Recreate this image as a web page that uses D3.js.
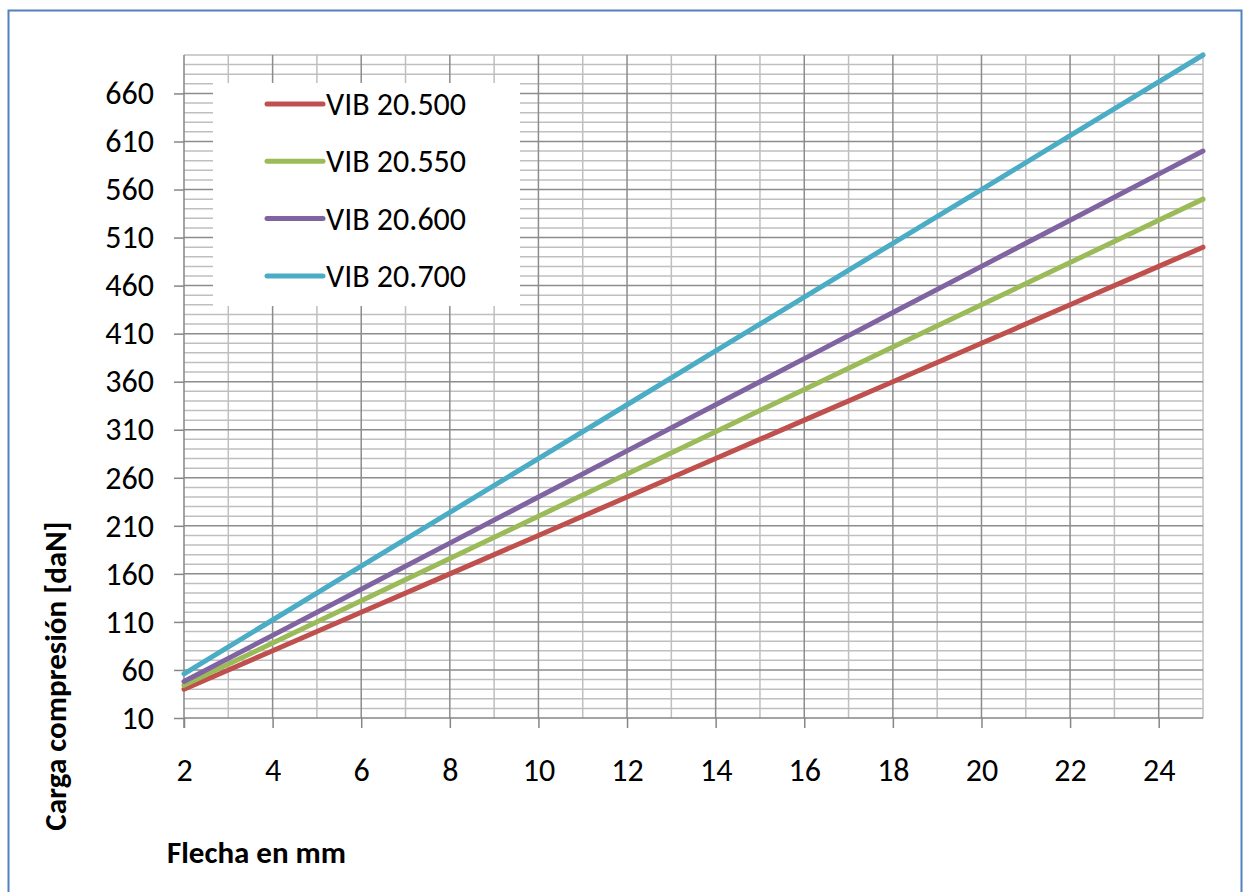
<!DOCTYPE html>
<html>
<head>
<meta charset="utf-8">
<script src="https://cdn.jsdelivr.net/npm/d3@7"></script>
<style>
  body { margin: 0; background: #fff; }
  #chart { width: 1244px; height: 892px; }
  text { font-family: Carlito, Calibri, Lato, sans-serif; fill: #000; }
</style>
</head>
<body>
<div id="chart"></div>
<script>
const flecha = [2, 4, 6, 8, 10, 12, 14, 16, 18, 20, 22, 24, 25];
const seriesNames = ['VIB 20.500', 'VIB 20.550', 'VIB 20.600', 'VIB 20.700'];
const vib500 = [40, 80, 120, 160, 200, 240, 280, 320, 360, 400, 440, 480, 500];
const vib550 = [44, 88, 132, 176, 220, 264, 308, 352, 396, 440, 484, 528, 550];
const vib600 = [48, 96, 144, 192, 240, 288, 336, 384, 432, 480, 528, 576, 600];
const vib700 = [56, 112, 168, 224, 280, 336, 392, 448, 504, 560, 616, 672, 700];
const xTicks = [2, 4, 6, 8, 10, 12, 14, 16, 18, 20, 22, 24];
const yTicks = [10, 60, 110, 160, 210, 260, 310, 360, 410, 460, 510, 560, 610, 660];
const colors = ['#C0504D', '#9BBB59', '#8064A2', '#4BACC6'];

function drawChart() {
    const container = document.getElementById('chart');
    const W = 1244, H = 892;
    const plot = { left: 184, right: 1203, top: 55, bottom: 718 };

    const svg = d3.select(container)
        .append('svg')
        .attr('width', W)
        .attr('height', H);

    // outer frame
    svg.append('rect')
        .attr('x', 8.5)
        .attr('y', 10.5)
        .attr('width', 1233)
        .attr('height', 900)
        .attr('fill', '#fff')
        .attr('stroke', '#4F81BD')
        .attr('stroke-width', 2);

    const xScale = d3.scaleLinear().domain([2, 25]).range([plot.left, plot.right]);
    const yScale = d3.scaleLinear().domain([10, 700]).range([plot.bottom, plot.top]);

    const grid = svg.append('g');

    // minor grid
    grid.selectAll('.hminor')
        .data(d3.range(20, 701, 10).filter(v => !yTicks.includes(v)))
        .enter()
        .append('line')
        .attr('x1', plot.left).attr('x2', plot.right)
        .attr('y1', d => yScale(d)).attr('y2', d => yScale(d))
        .attr('stroke', '#BFBFBF')
        .attr('stroke-width', 1.5);

    grid.selectAll('.vminor')
        .data(d3.range(3, 26, 1).filter(v => !xTicks.includes(v)))
        .enter()
        .append('line')
        .attr('x1', d => xScale(d)).attr('x2', d => xScale(d))
        .attr('y1', plot.top).attr('y2', plot.bottom)
        .attr('stroke', '#BFBFBF')
        .attr('stroke-width', 1.5);

    // major grid
    grid.selectAll('.hmajor')
        .data(yTicks.slice(1))
        .enter()
        .append('line')
        .attr('x1', plot.left).attr('x2', plot.right)
        .attr('y1', d => yScale(d)).attr('y2', d => yScale(d))
        .attr('stroke', '#8C8C8C')
        .attr('stroke-width', 1.5);

    grid.selectAll('.vmajor')
        .data(xTicks.slice(1))
        .enter()
        .append('line')
        .attr('x1', d => xScale(d)).attr('x2', d => xScale(d))
        .attr('y1', plot.top).attr('y2', plot.bottom)
        .attr('stroke', '#8C8C8C')
        .attr('stroke-width', 1.5);

    // axes
    const xAxis = svg.append('g')
        .attr('transform', `translate(0, ${plot.bottom})`)
        .call(d3.axisBottom(xScale).tickValues(xTicks).tickSize(10).tickPadding(30));

    const yAxis = svg.append('g')
        .attr('transform', `translate(${plot.left}, 0)`)
        .call(d3.axisLeft(yScale).tickValues(yTicks).tickSize(10).tickPadding(20));

    [xAxis, yAxis].forEach(ax => {
        ax.select('.domain').remove();
        ax.selectAll('line').attr('stroke', '#868686').attr('stroke-width', 1.5);
        ax.selectAll('text')
            .style('font-family', 'Carlito, Calibri, Lato, sans-serif')
            .style('font-size', '32px')
            .attr('fill', '#000');
    });

    svg.append('line')
        .attr('x1', plot.left).attr('x2', plot.left)
        .attr('y1', plot.top).attr('y2', plot.bottom + 10)
        .attr('stroke', '#868686').attr('stroke-width', 1.5);
    svg.append('line')
        .attr('x1', plot.left).attr('x2', plot.right)
        .attr('y1', plot.bottom).attr('y2', plot.bottom)
        .attr('stroke', '#868686').attr('stroke-width', 1.5);

    // legend
    const legend = svg.append('g').attr('class', 'legend');
    legend.append('rect')
        .attr('x', 213).attr('y', 83)
        .attr('width', 307).attr('height', 223)
        .attr('fill', '#fff');

    legend.selectAll('.legend-item')
        .data(seriesNames)
        .enter()
        .append('g')
        .attr('class', 'legend-item')
        .attr('transform', (d, i) => `translate(267, ${104 + i * 57.3})`)
        .each(function(d, i) {
            const g = d3.select(this);
            g.append('line')
                .attr('x1', 0).attr('x2', 56)
                .attr('stroke', colors[i])
                .attr('stroke-width', 5)
                .attr('stroke-linecap', 'round');
            g.append('text')
                .attr('x', 59)
                .attr('y', 11)
                .style('font-size', '32px')
                .text(d);
        });

    // series
    const allValues = [vib500, vib550, vib600, vib700];
    const lineData = seriesNames.map((name, i) => ({
        name: name,
        values: flecha.map((f, j) => ({ x: f, y: allValues[i][j] }))
    }));

    const line = d3.line()
        .x(d => xScale(d.x))
        .y(d => yScale(d.y));

    svg.selectAll('.series')
        .data(lineData)
        .enter()
        .append('path')
        .attr('class', 'series')
        .attr('d', d => line(d.values))
        .attr('fill', 'none')
        .attr('stroke', (d, i) => colors[i])
        .attr('stroke-width', 5)
        .attr('stroke-linecap', 'round');

    // axis titles
    svg.append('text')
        .attr('transform', 'translate(66, 676) rotate(-90)')
        .attr('text-anchor', 'middle')
        .style('font-size', '31px')
        .style('font-weight', 'bold')
        .text('Carga compresión [daN]');

    svg.append('text')
        .attr('x', 167)
        .attr('y', 863)
        .style('font-size', '31px')
        .style('font-weight', 'bold')
        .text('Flecha en mm');
}

drawChart();
</script>
</body>
</html>
